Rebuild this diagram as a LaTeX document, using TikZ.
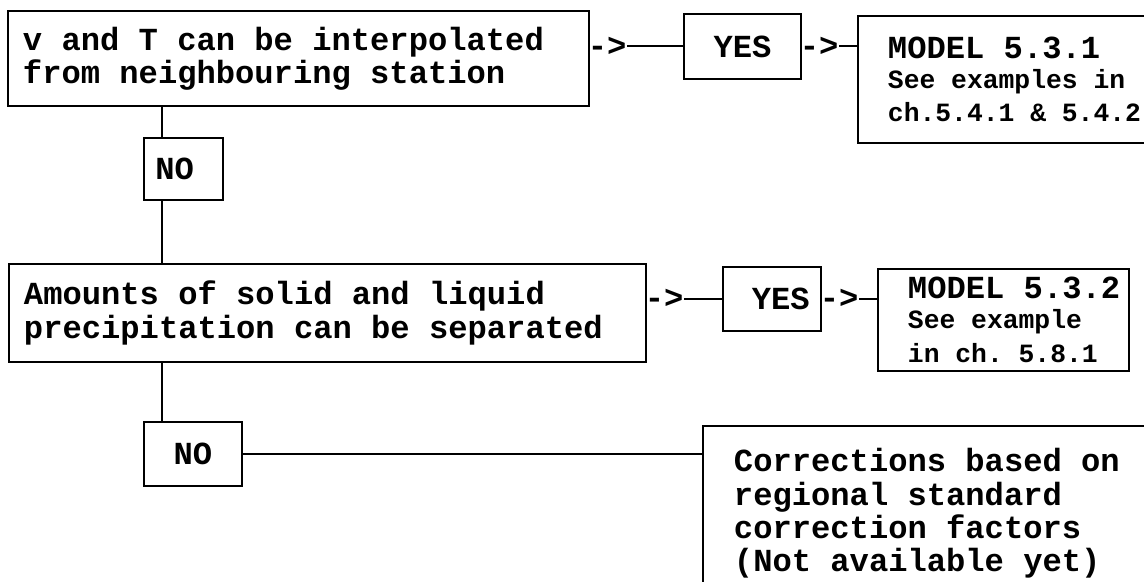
\documentclass[tikz,border=0pt]{standalone}
\usepackage{fontspec}
\setmainfont{Liberation Mono}
\usetikzlibrary{positioning}
\newcommand{\bigtxt}{\bfseries\fontsize{18.3}{19}\selectfont}
\newcommand{\smalltxt}{\fontsize{15}{17}\selectfont\spaceskip=0.6em\xspaceskip=0.6em\relax}
\begin{document}
\begin{tikzpicture}[x=0.02cm,y=-0.02cm,line width=1.1pt,
    fixedspace/.style={execute at begin node={\spaceskip=0.6em\xspaceskip=0.6em\relax}},
    box/.style={draw,anchor=north west,inner ysep=0pt,align=left,font=\bigtxt,fixedspace},
    answer/.style={draw,anchor=north west,inner sep=0pt,font=\bigtxt},
    gt/.style={inner sep=0pt,anchor=west,xshift=-0.06cm,font=\bigtxt}]
    \useasboundingbox (0,0) rectangle (1144,582);
    \clip (0,0) rectangle (1144,582);
    % first question
    \node[box,inner xsep=0.3cm,text width=11.02cm,minimum height=1.9cm] (q1) at (7,10)
        {v and T can be interpolated\\from neighbouring station};
    \node[answer,minimum width=2.34cm,minimum height=1.3cm] (yes1) at (683,13) {YES};
    \node[box,inner xsep=0.6cm,text width=5.4cm,minimum height=2.54cm] (model1) at (857,15)
        {MODEL 5.3.1\\\smalltxt See examples in\\ch.5.4.1 \& 5.4.2};
    \node[answer,minimum width=1.58cm,minimum height=1.24cm] (no1) at (143,137) {NO\rule{0.35cm}{0pt}};
    % second question
    \node[box,inner xsep=0.3cm,text width=12.14cm,minimum height=1.96cm] (q2) at (8,263)
        {Amounts of solid and liquid\\precipitation can be separated};
    \node[answer,minimum width=1.96cm,minimum height=1.28cm] (yes2) at (722,266) {\rule{0.35cm}{0pt}YES};
    \node[box,inner xsep=0.6cm,text width=3.82cm,minimum height=2.04cm] (model2) at (877,268)
        {\makebox[3.82cm][l]{MODEL 5.3.2}\\\smalltxt See example\\in ch. 5.8.1};
    \node[answer,minimum width=1.96cm,minimum height=1.28cm] (no2) at (143,421) {NO};
    \node[box,inner xsep=0.62cm,text width=9cm,minimum height=3.5cm] (corr) at (702,425)
        {Corrections based on\\regional standard\\correction factors\\(Not available yet)};
    % arrows
    \node[gt] (gt1) at (q1.east |- yes1) {->};
    \node[gt,right=0pt of yes1] (gt2) {->};
    \node[gt] (gt3) at (q2.east |- yes2) {->};
    \node[gt,right=0pt of yes2] (gt4) {->};
    \draw (gt1) -- (yes1);
    \draw (gt2.east) -- (gt2.east -| model1.west);
    \draw (gt3) -- (yes2);
    \draw (gt4.east) -- (gt4.east -| model2.west);
    \coordinate (trunk) at (162,0);
    \draw (trunk |- q1.south) -- (trunk |- no1.north);
    \draw (trunk |- no1.south) -- (trunk |- q2.north);
    \draw (trunk |- q2.south) -- (trunk |- no2.north);
    \draw (no2.east) -- (no2.east -| corr.west);
\end{tikzpicture}
\end{document}
